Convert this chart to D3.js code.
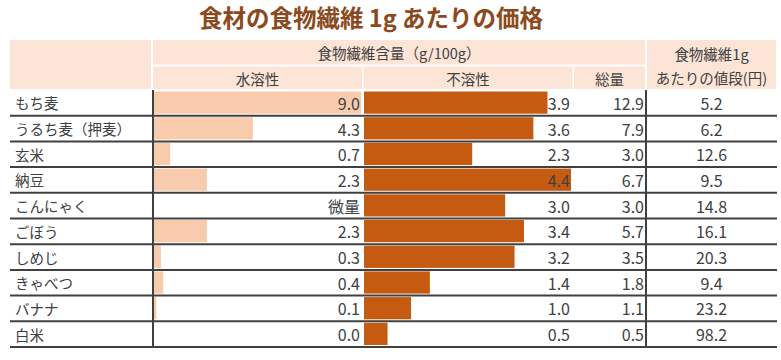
<!DOCTYPE html>
<html>
<head>
<meta charset="utf-8">
<script src="https://cdn.jsdelivr.net/npm/d3@7"></script>
<style>
  body { margin: 0; background: #fff; }
  text { font-family: "Noto Sans CJK JP", "Noto Sans", sans-serif; }
</style>
</head>
<body>
<div id="chart"></div>
<script>
// data
var foods = ["もち麦", "うるち麦（押麦）", "玄米", "納豆", "こんにゃく", "ごぼう", "しめじ", "きゃべつ", "バナナ", "白米"];
var soluble = [9.0, 4.3, 0.7, 2.3, null, 2.3, 0.3, 0.4, 0.1, 0.0];   // null = 微量
var insoluble = [3.9, 3.6, 2.3, 4.4, 3.0, 3.4, 3.2, 1.4, 1.0, 0.5];
var total = [12.9, 7.9, 3.0, 6.7, 3.0, 5.7, 3.5, 1.8, 1.1, 0.5];
var price = [5.2, 6.2, 12.6, 9.5, 14.8, 16.1, 20.3, 9.4, 23.2, 98.2];

var width = 781, height = 360;
var ink = "#404040", headBg = "#fce4d6";

var svg = d3.select("#chart")
  .append("svg")
    .attr("width", width)
    .attr("height", height);

// scales
var y = d3.scaleBand().domain(foods).range([90, 347]);
var xSol = d3.scaleLinear().domain([0, d3.max(soluble)]).range([154, 361]);
var xIns = d3.scaleLinear().domain([0, d3.max(insoluble)]).range([364, 571]);

// title
svg.append("text")
  .attr("x", 371).attr("y", 17)
  .attr("text-anchor", "middle")
  .attr("dominant-baseline", "central")
  .attr("font-size", 23.5)
  .attr("font-weight", "bold")
  .attr("fill", "#8b4a1e")
  .text("食材の食物繊維 1g あたりの価格");

// header cells
var cells = [
  [10, 40, 141, 49],
  [153, 40, 492, 24.5],
  [153, 66.5, 209, 22.5],
  [363.5, 66.5, 209, 22.5],
  [574, 66.5, 71, 22.5],
  [647, 40, 129, 49]
];
svg.append("g").selectAll("rect")
  .data(cells)
  .enter()
  .append("rect")
    .attr("x", function(d) { return d[0] })
    .attr("y", function(d) { return d[1] })
    .attr("width", function(d) { return d[2] })
    .attr("height", function(d) { return d[3] })
    .attr("fill", headBg);

var heads = [
  [399, 52.5, "食物繊維含量（g/100g）"],
  [257.5, 78, "水溶性"],
  [468, 78, "不溶性"],
  [609.5, 78, "総量"],
  [711.5, 53.5, "食物繊維1g"],
  [711.5, 77.5, "あたりの値段(円)"]
];
svg.append("g").selectAll("text")
  .data(heads)
  .enter()
  .append("text")
    .attr("x", function(d) { return d[0] })
    .attr("y", function(d) { return d[1] })
    .attr("text-anchor", "middle")
    .attr("dominant-baseline", "central")
    .attr("font-size", 14.5)
    .attr("fill", ink)
    .text(function(d) { return d[2] });

// rows
var rows = svg.append("g").selectAll("g")
  .data(foods)
  .enter()
  .append("g")
    .attr("transform", function(d) { return "translate(0," + y(d) + ")" });

var bh = y.bandwidth();

// water soluble bars
rows.append("rect")
  .attr("x", xSol(0))
  .attr("y", 1.5)
  .attr("height", bh - 3.5)
  .attr("width", function(d, i) { return soluble[i] == null ? 0 : xSol(soluble[i]) - xSol(0) })
  .attr("fill", "#f8cbad");

// insoluble bars
rows.append("rect")
  .attr("x", xIns(0))
  .attr("y", 1.5)
  .attr("height", bh - 3.5)
  .attr("width", function(d, i) { return xIns(insoluble[i]) - xIns(0) })
  .attr("fill", "#c55a11");

// row labels
rows.append("text")
  .attr("x", 15)
  .attr("y", bh / 2)
  .attr("dominant-baseline", "central")
  .attr("font-size", 14.5)
  .attr("fill", ink)
  .text(function(d) { return d });

function valueText(x, anchor, vals, fmt) {
  rows.append("text")
    .attr("x", x)
    .attr("y", bh / 2)
    .attr("text-anchor", anchor)
    .attr("dominant-baseline", "central")
    .attr("font-size", 16)
    .attr("fill", ink)
    .text(function(d, i) { return fmt(vals[i]) });
}
var f1 = d3.format(".1f");
valueText(360, "end", soluble, function(v) { return v == null ? "微量" : f1(v) });
valueText(570, "end", insoluble, f1);
valueText(644, "end", total, f1);
valueText(711.5, "middle", price, f1);

// row lines
svg.append("g").selectAll("line")
  .data(foods)
  .enter()
  .append("line")
    .attr("x1", 10).attr("x2", 777)
    .attr("y1", function(d) { return y(d) + bh })
    .attr("y2", function(d) { return y(d) + bh })
    .attr("stroke", ink)
    .attr("stroke-width", 2);

// vertical lines
svg.append("g").selectAll("line")
  .data([153, 646])
  .enter()
  .append("line")
    .attr("x1", function(d) { return d }).attr("x2", function(d) { return d })
    .attr("y1", 90).attr("y2", 347)
    .attr("stroke", ink)
    .attr("stroke-width", 2);
</script>
</body>
</html>
